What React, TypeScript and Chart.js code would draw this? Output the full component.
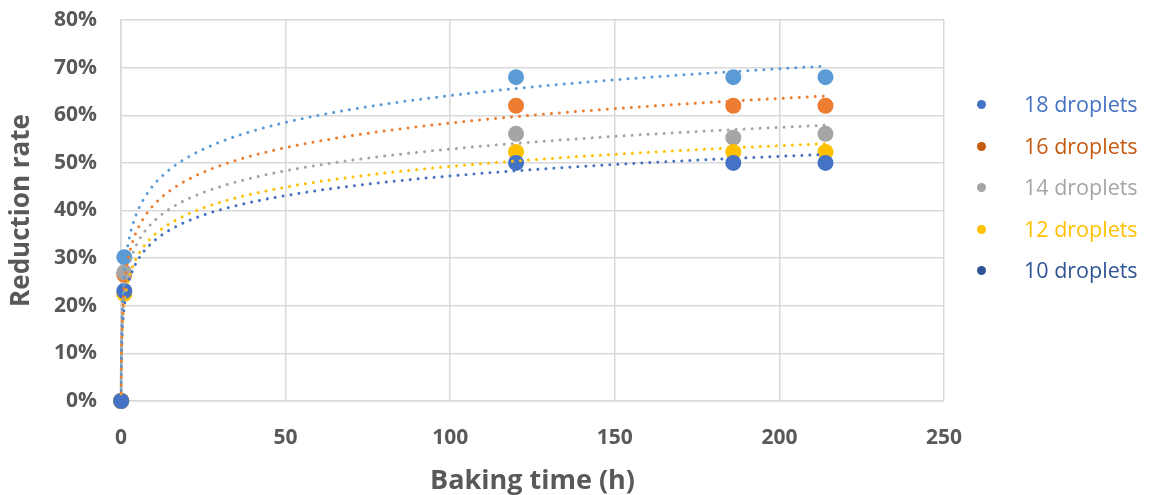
import React, { useEffect, useRef } from "react";
import { Chart, registerables } from "chart.js";

Chart.register(...registerables);

// ---- data ----
const X_HOURS = [0.05, 1, 120, 186, 214];
const SERIES_NAMES = ["18 droplets", "16 droplets", "14 droplets", "12 droplets", "10 droplets"];
const R18 = [0, 0.302, 0.68, 0.68, 0.68];
const R16 = [0, 0.265, 0.62, 0.62, 0.62];
const R14 = [0, 0.27, 0.561, 0.553, 0.561];
const R12 = [0, 0.225, 0.523, 0.523, 0.523];
const R10 = [0, 0.231, 0.5, 0.5, 0.5];
const X_TICKS = [0, 50, 100, 150, 200, 250];
const Y_TICKS = [0, 0.1, 0.2, 0.3, 0.4, 0.5, 0.6, 0.7, 0.8];

const MARKER_COLORS = ["#5B9BD5", "#ED7D31", "#A5A5A5", "#FFC000", "#4472C4"];
const LEGEND_COLORS = ["#4472C4", "#C55A11", "#A5A5A5", "#FFC000", "#2F5597"];
const SERIES_VALUES = [R18, R16, R14, R12, R10];

const TICK_COLOR = "#595959";
const GRID_COLOR = "#D9D9D9";
const FONT = "'Open Sans', 'Noto Sans', sans-serif";

function logFit(xs: number[], ys: number[]) {
  const lx = xs.map((v) => Math.log(v));
  const n = lx.length;
  const mx = lx.reduce((s, v) => s + v, 0) / n;
  const my = ys.reduce((s, v) => s + v, 0) / n;
  let sxx = 0;
  let sxy = 0;
  for (let i = 0; i < n; i++) {
    sxx += (lx[i] - mx) * (lx[i] - mx);
    sxy += (lx[i] - mx) * (ys[i] - my);
  }
  const a = sxy / sxx;
  return { a, b: my - a * mx };
}

const trendPlugin = {
  id: "logTrend",
  afterDatasetsDraw(chart: any) {
    const { ctx, scales } = chart;
    const xs = scales.x;
    const ys = scales.y;
    ctx.save();
    const order = [4, 3, 2, 1, 0];
    order.forEach((si) => {
      const vals = SERIES_VALUES[si];
      const { a, b } = logFit(X_HOURS, vals);
      const x0 = Math.min(...X_HOURS);
      const x1 = Math.max(...X_HOURS);
      const steps = 600;
      ctx.beginPath();
      for (let i = 0; i <= steps; i++) {
        const lv = Math.log(x0) + ((Math.log(x1) - Math.log(x0)) * i) / steps;
        const xv = Math.exp(lv);
        const yv = a * lv + b;
        const px = xs.getPixelForValue(xv);
        const py = ys.getPixelForValue(yv);
        if (i === 0) ctx.moveTo(px, py);
        else ctx.lineTo(px, py);
      }
      ctx.strokeStyle = MARKER_COLORS[si];
      ctx.lineWidth = 3;
      ctx.lineCap = "round";
      ctx.setLineDash([0.01, 8]);
      ctx.stroke();
    });
    ctx.restore();
  },
};

export default function App() {
  const canvasRef = useRef<HTMLCanvasElement | null>(null);

  useEffect(() => {
    if (!canvasRef.current) return;
    // datasets listed with 10 droplets first so it is drawn on top
    const idx = [4, 3, 2, 1, 0];
    const chart = new Chart(canvasRef.current, {
      type: "scatter",
      data: {
        datasets: idx.map((si) => ({
          label: SERIES_NAMES[si],
          data: X_HOURS.map((x, i) => ({ x, y: SERIES_VALUES[si][i] })),
          backgroundColor: MARKER_COLORS[si],
          borderColor: MARKER_COLORS[si],
          borderWidth: 0,
          pointRadius: 8,
          pointHoverRadius: 8,
          clip: false,
        })),
      },
      options: {
        animation: false,
        responsive: true,
        maintainAspectRatio: false,
        layout: { padding: { top: 20, right: 208, bottom: 0, left: 0 } },
        plugins: {
          legend: { display: false },
          tooltip: { enabled: false },
        },
        scales: {
          x: {
            type: "linear",
            min: 0,
            max: 250,
            afterBuildTicks: (s: any) => {
              s.ticks = X_TICKS.map((v) => ({ value: v }));
            },
            afterFit: (s: any) => {
              s.height = 94;
            },
            grid: { color: GRID_COLOR, lineWidth: 1.5, drawTicks: false },
            border: { color: GRID_COLOR, width: 1.5 },
            ticks: {
              padding: 24,
              color: TICK_COLOR,
              font: { family: FONT, size: 21, weight: "bold" },
            },
            title: {
              display: true,
              text: "Baking time (h)",
              color: TICK_COLOR,
              font: { family: FONT, size: 27, weight: "bold" },
              padding: { top: 0, bottom: -3 },
            },
          },
          y: {
            type: "linear",
            min: 0,
            max: 0.8,
            afterBuildTicks: (s: any) => {
              s.ticks = Y_TICKS.map((v) => ({ value: v }));
            },
            afterFit: (s: any) => {
              s.width = 121;
              s.paddingTop = 12;
              s.paddingBottom = 12;
            },
            grid: { color: GRID_COLOR, lineWidth: 1.5, drawTicks: false },
            border: { color: GRID_COLOR, width: 1.5 },
            ticks: {
              padding: 24,
              color: TICK_COLOR,
              font: { family: FONT, size: 21, weight: "bold" },
              callback: (v: any) => Math.round(Number(v) * 100) + "%",
            },
            title: {
              display: true,
              text: "Reduction rate",
              color: TICK_COLOR,
              font: { family: FONT, size: 26, weight: "bold" },
              padding: { top: 6, bottom: 0 },
            },
          },
        },
      },
      plugins: [trendPlugin],
    });
    return () => chart.destroy();
  }, []);

  const legendTops = [104, 146, 187, 229, 270];

  return (
    <div style={{ position: "absolute", left: 0, top: 0, width: 1152, height: 495, background: "#fff" }}>
      <canvas ref={canvasRef} />
      {SERIES_NAMES.map((name, i) => (
        <div
          key={name}
          style={{
            position: "absolute",
            left: 0,
            top: legendTops[i] - 15,
            height: 30,
            width: 1152,
            fontFamily: FONT,
            fontSize: 21.5,
            lineHeight: "30px",
            color: LEGEND_COLORS[i],
            whiteSpace: "nowrap",
          }}
        >
          <span
            style={{
              position: "absolute",
              left: 977,
              top: 11,
              width: 9,
              height: 9,
              borderRadius: "50%",
              background: LEGEND_COLORS[i],
            }}
          />
          <span style={{ position: "absolute", left: 1024, top: 0 }}>{name}</span>
        </div>
      ))}
    </div>
  );
}
